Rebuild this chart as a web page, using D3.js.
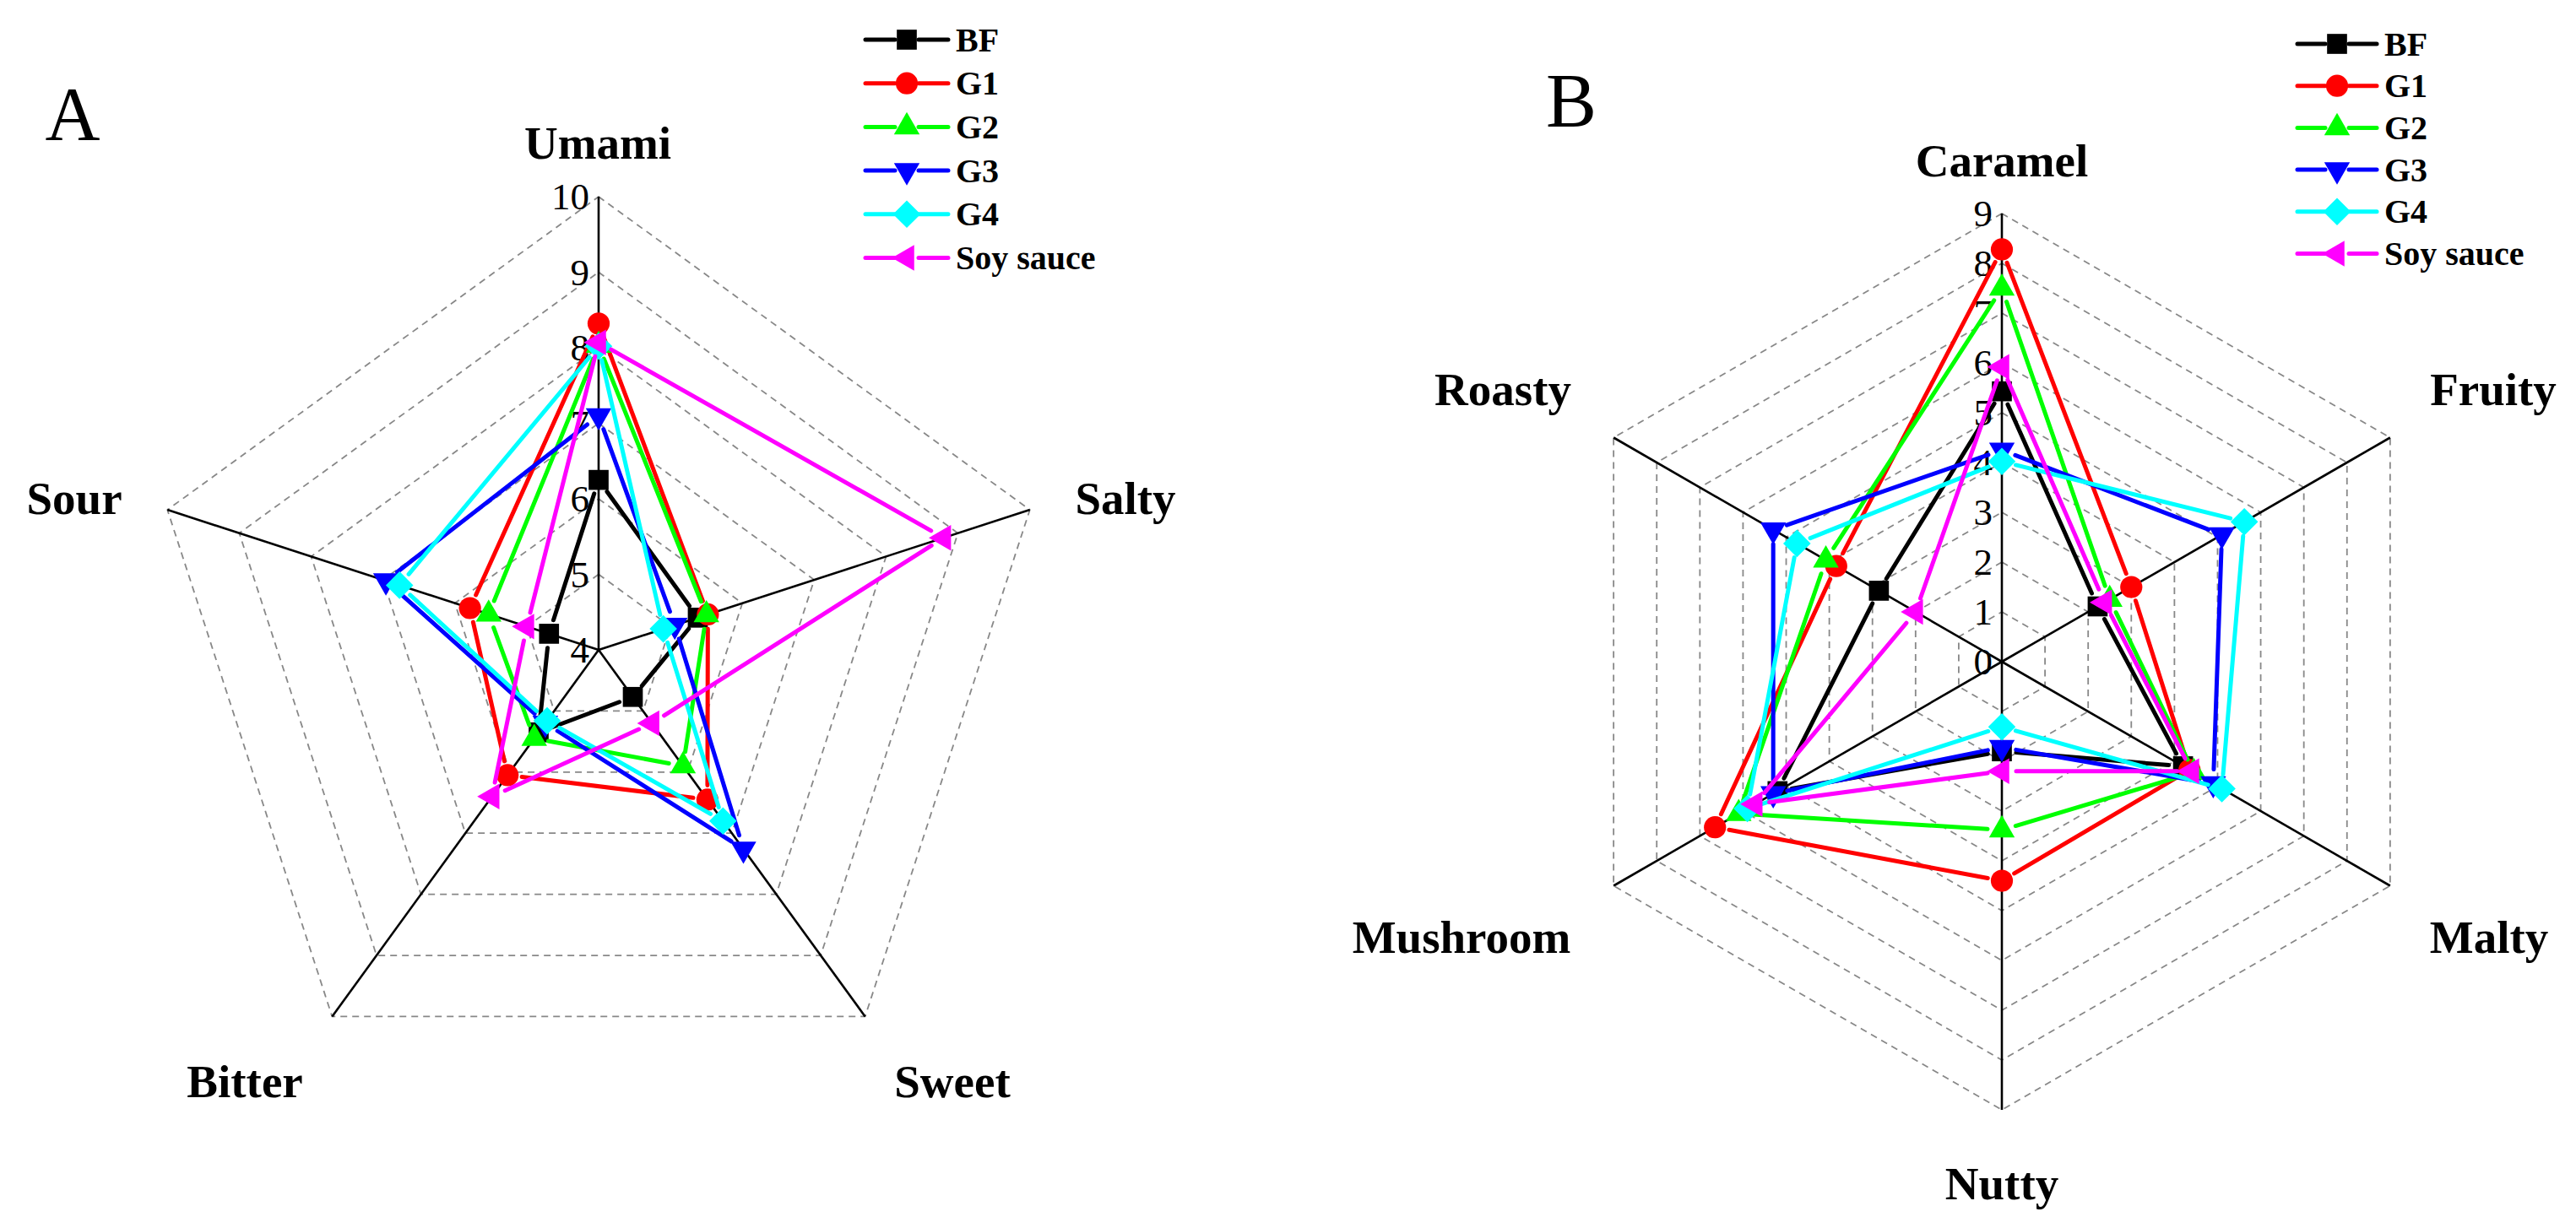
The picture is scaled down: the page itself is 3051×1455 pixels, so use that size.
<!DOCTYPE html>
<html>
<head>
<meta charset="utf-8">
<script src="https://cdn.jsdelivr.net/npm/d3@7"></script>
<style>
  body { margin: 0; background: #fff; }
  text { font-family: "Liberation Serif", "Times New Roman", serif; fill: #000; }
</style>
</head>
<body>
<div id="chart"></div>
<script>
// series shared by both panels
const seriesNames  = ["BF", "G1", "G2", "G3", "G4", "Soy sauce"];
const seriesColors = ["#000000", "#ff0000", "#00ff00", "#0000ff", "#00ffff", "#ff00ff"];

// panel A: taste
const tasteAxes  = ["Umami", "Salty", "Sweet", "Bitter", "Sour"];
const tasteTicks = [4, 5, 6, 7, 8, 9, 10];
const tasteBF    = [6.25, 5.38, 4.77, 5.35, 4.69];
const tasteG1    = [8.32, 5.52, 6.45, 6.05, 5.79];
const tasteG2    = [8.03, 5.50, 5.90, 5.45, 5.53];
const tasteG3    = [7.10, 5.06, 7.26, 5.20, 6.96];
const tasteG4    = [8.02, 4.90, 6.80, 5.16, 6.77];
const tasteSoy   = [8.07, 8.80, 5.20, 6.40, 5.00];

// panel B: aroma
const aromaAxes  = ["Caramel", "Fruity", "Malty", "Nutty", "Mushroom", "Roasty"];
const aromaTicks = [0, 1, 2, 3, 4, 5, 6, 7, 8, 9];
const aromaBF    = [5.43, 2.22, 4.20, 1.80, 5.20, 2.85];
const aromaG1    = [8.28, 3.00, 4.35, 4.40, 6.65, 3.84];
const aromaG2    = [7.50, 2.50, 4.45, 3.38, 6.10, 4.08];
const aromaG3    = [4.25, 5.10, 4.90, 1.72, 5.30, 5.30];
const aromaG4    = [4.02, 5.62, 5.10, 1.31, 5.90, 4.75];
const aromaSoy   = [5.92, 2.38, 4.40, 2.20, 5.72, 2.00];

const width = 3051, height = 1455;

const svg = d3.select("#chart")
    .append("svg")
    .attr("width", width)
    .attr("height", height)
    .style("display", "block");

svg.append("rect").attr("width", width).attr("height", height).attr("fill", "#fff");

// marker shapes, one per series
const markers = [
    { type: d3.symbolSquare,   size: 560, rotate: 0 },
    { type: d3.symbolCircle,   size: 540, rotate: 0 },
    { type: d3.symbolTriangle, size: 400, rotate: 0 },
    { type: d3.symbolTriangle, size: 400, rotate: 180 },
    { type: d3.symbolSquare,   size: 530, rotate: 45 },
    { type: d3.symbolTriangle, size: 400, rotate: -90 }
];

function drawMarker(g, i, x, y) {
    const m = markers[i];
    g.append("path")
        .attr("d", d3.symbol().type(m.type).size(m.size)())
        .attr("transform", `translate(${x},${y}) rotate(${m.rotate})`)
        .attr("fill", seriesColors[i]);
}

function drawRadar(cfg) {
    const n = cfg.axes.length;
    const rScale = d3.scaleLinear()
        .domain(d3.extent(cfg.ticks))
        .range([0, cfg.radius]);
    const angle = i => i * 2 * Math.PI / n;
    const pos = (i, v) => [
        cfg.cx + rScale(v) * Math.sin(angle(i)),
        cfg.cy - rScale(v) * Math.cos(angle(i))
    ];

    const g = svg.append("g");

    // dashed grid rings
    const ring = d3.line();
    g.selectAll(".ring")
        .data(cfg.ticks.slice(1))
        .join("path")
        .attr("d", t => ring(d3.range(n).map(i => pos(i, t))) + "Z")
        .attr("fill", "none")
        .attr("stroke", "#888")
        .attr("stroke-width", 1.8)
        .attr("stroke-dasharray", "8,6");

    // spokes
    const top = cfg.ticks[cfg.ticks.length - 1];
    g.selectAll(".spoke")
        .data(d3.range(n))
        .join("line")
        .attr("x1", cfg.cx).attr("y1", cfg.cy)
        .attr("x2", i => pos(i, top)[0])
        .attr("y2", i => pos(i, top)[1])
        .attr("stroke", "#000")
        .attr("stroke-width", 2.6);

    // tick labels on the first axis
    g.selectAll(".tick")
        .data(cfg.ticks)
        .join("text")
        .attr("x", cfg.cx - 11)
        .attr("y", t => pos(0, t)[1])
        .attr("text-anchor", "end")
        .attr("dominant-baseline", "central")
        .style("font-size", "45px")
        .text(t => t);

    // axis names
    g.selectAll(".axisName")
        .data(cfg.axes)
        .join("text")
        .attr("x", (d, i) => cfg.cx + cfg.labelOffsets[i][0])
        .attr("y", (d, i) => cfg.cy + cfg.labelOffsets[i][1])
        .attr("text-anchor", "middle")
        .attr("dominant-baseline", "central")
        .style("font-size", "55px")
        .style("font-weight", "bold")
        .text(d => d);

    // panel letter
    g.append("text")
        .attr("x", cfg.letterPos[0])
        .attr("y", cfg.letterPos[1])
        .attr("text-anchor", "middle")
        .attr("dominant-baseline", "central")
        .style("font-size", "90px")
        .text(cfg.letter);

    // series: gapped polyline then markers
    const gap = 17;
    cfg.series.forEach((vals, s) => {
        const sg = g.append("g");
        const pts = vals.map((v, i) => pos(i, v));
        pts.forEach((a, i) => {
            const b = pts[(i + 1) % n];
            const dx = b[0] - a[0], dy = b[1] - a[1];
            const len = Math.hypot(dx, dy);
            if (len <= 2 * gap) return;
            const ux = dx / len, uy = dy / len;
            sg.append("line")
                .attr("x1", a[0] + ux * gap).attr("y1", a[1] + uy * gap)
                .attr("x2", b[0] - ux * gap).attr("y2", b[1] - uy * gap)
                .attr("stroke", seriesColors[s])
                .attr("stroke-width", 5)
                .attr("stroke-linecap", "round");
        });
        pts.forEach(p => drawMarker(sg, s, p[0], p[1]));
    });

    // legend
    const lg = svg.append("g");
    seriesNames.forEach((name, s) => {
        const y = cfg.legend.y0 + s * cfg.legend.step;
        const x0 = cfg.legend.x0, x1 = cfg.legend.x1, xm = (x0 + x1) / 2;
        [[x0, xm - 14], [xm + 14, x1]].forEach(([a, b]) => {
            lg.append("line")
                .attr("x1", a).attr("x2", b)
                .attr("y1", y).attr("y2", y)
                .attr("stroke", seriesColors[s])
                .attr("stroke-width", 5)
                .attr("stroke-linecap", "round");
        });
        drawMarker(lg, s, xm, y);
        lg.append("text")
            .attr("x", x1 + 9)
            .attr("y", y)
            .attr("dominant-baseline", "central")
            .style("font-size", "40px")
            .style("font-weight", "bold")
            .text(name);
    });
}

drawRadar({
    axes: tasteAxes,
    ticks: tasteTicks,
    series: [tasteBF, tasteG1, tasteG2, tasteG3, tasteG4, tasteSoy],
    cx: 709, cy: 770, radius: 537,
    labelOffsets: [[-1, -601], [624, -180], [419, 511], [-419, 511], [-621, -180]],
    letter: "A", letterPos: [86, 135],
    legend: { x0: 1025, x1: 1123, y0: 47, step: 51.7 }
});

drawRadar({
    axes: aromaAxes,
    ticks: aromaTicks,
    series: [aromaBF, aromaG1, aromaG2, aromaG3, aromaG4, aromaSoy],
    cx: 2371, cy: 784, radius: 531,
    labelOffsets: [[0, -594], [582, -323], [577, 326], [0, 618], [-640, 326], [-591, -323]],
    letter: "B", letterPos: [1861, 119],
    legend: { x0: 2721, x1: 2815, y0: 52, step: 49.7 }
});
</script>
</body>
</html>
